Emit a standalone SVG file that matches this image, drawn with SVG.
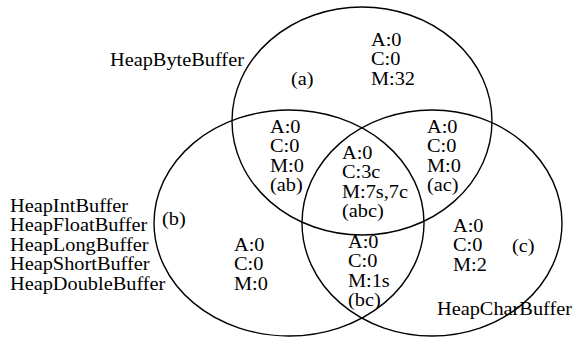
<svg xmlns="http://www.w3.org/2000/svg" width="574" height="337" viewBox="0 0 574 337">
<style>
.set{fill:none;stroke:#000;stroke-width:1.4}
.t{font-family:"Liberation Serif","Times New Roman",serif;font-size:18px;fill:#000}
</style>
<rect width="574" height="337" fill="#fff"/>
<g id="sets">
<ellipse id="set-a" class="set" cx="362" cy="121" rx="130" ry="114"/>
<ellipse id="set-b" class="set" cx="289" cy="223" rx="135" ry="113"/>
<ellipse id="set-c" class="set" cx="432" cy="223" rx="130" ry="113"/>
</g>
<g id="label-a-names" transform="translate(110,66) scale(1.13,1)"><text class="t">HeapByteBuffer</text></g>
<g id="region-a" transform="translate(371,46) scale(1.13,1)"><text class="t"><tspan x="0" y="0">A:0</tspan><tspan x="0" y="19.5">C:0</tspan><tspan x="0" y="39">M:32</tspan></text></g>
<g id="tag-a" transform="translate(291,85) scale(1.13,1)"><text class="t">(a)</text></g>
<g id="region-ab" transform="translate(270,133) scale(1.13,1)"><text class="t"><tspan x="0" y="0">A:0</tspan><tspan x="0" y="19.5">C:0</tspan><tspan x="0" y="39">M:0</tspan><tspan x="0" y="58.5">(ab)</tspan></text></g>
<g id="region-ac" transform="translate(427,133) scale(1.13,1)"><text class="t"><tspan x="0" y="0">A:0</tspan><tspan x="0" y="19.5">C:0</tspan><tspan x="0" y="39">M:0</tspan><tspan x="0" y="58.5">(ac)</tspan></text></g>
<g id="region-abc" transform="translate(342,159) scale(1.13,1)"><text class="t"><tspan x="0" y="0">A:0</tspan><tspan x="0" y="19.5">C:3c</tspan><tspan x="0" y="39">M:7s,7c</tspan><tspan x="0" y="58.5">(abc)</tspan></text></g>
<g id="region-bc" transform="translate(348,248) scale(1.13,1)"><text class="t"><tspan x="0" y="0">A:0</tspan><tspan x="0" y="19.5">C:0</tspan><tspan x="0" y="39">M:1s</tspan><tspan x="0" y="58.5">(bc)</tspan></text></g>
<g id="region-b" transform="translate(234,251) scale(1.13,1)"><text class="t"><tspan x="0" y="0">A:0</tspan><tspan x="0" y="19.5">C:0</tspan><tspan x="0" y="39">M:0</tspan></text></g>
<g id="tag-b" transform="translate(162,225) scale(1.13,1)"><text class="t">(b)</text></g>
<g id="label-b-names" transform="translate(10,212) scale(1.13,1)"><text class="t"><tspan x="0" y="0">HeapIntBuffer</tspan><tspan x="0" y="19.5">HeapFloatBuffer</tspan><tspan x="0" y="39">HeapLongBuffer</tspan><tspan x="0" y="58.5">HeapShortBuffer</tspan><tspan x="0" y="78">HeapDoubleBuffer</tspan></text></g>
<g id="region-c" transform="translate(453,232) scale(1.13,1)"><text class="t"><tspan x="0" y="0">A:0</tspan><tspan x="0" y="19.5">C:0</tspan><tspan x="0" y="39">M:2</tspan></text></g>
<g id="tag-c" transform="translate(512,252) scale(1.13,1)"><text class="t">(c)</text></g>
<g id="label-c-names" transform="translate(437,315) scale(1.13,1)"><text class="t">HeapCharBuffer</text></g>
</svg>
